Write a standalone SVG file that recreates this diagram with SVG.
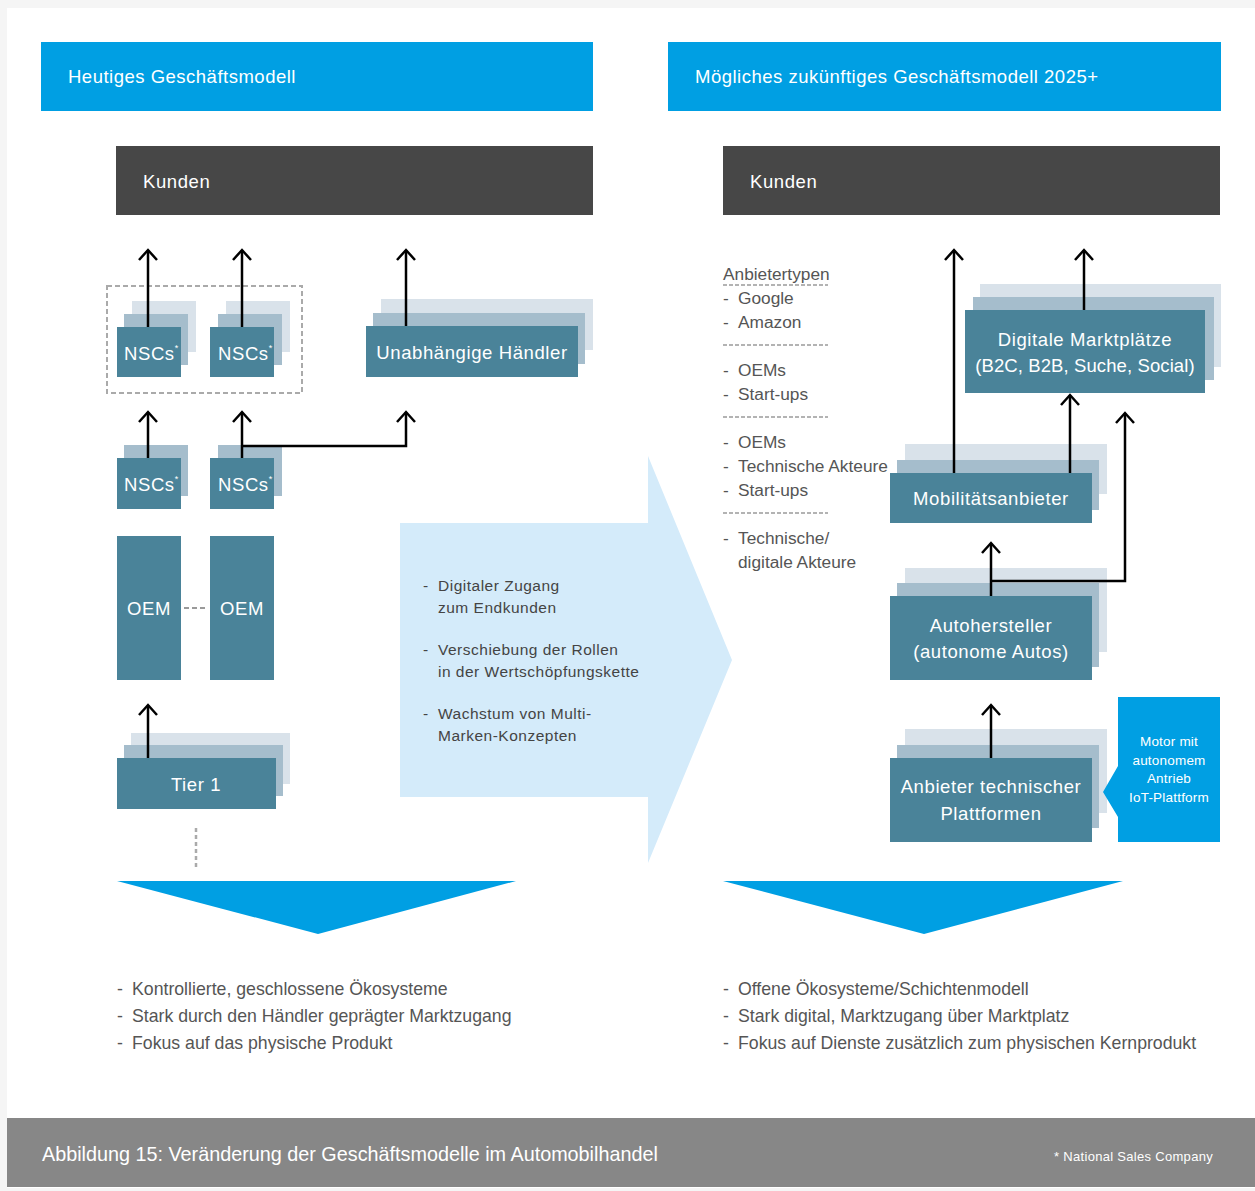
<svg xmlns="http://www.w3.org/2000/svg" width="1255" height="1191" viewBox="0 0 1255 1191">
<style>
.hdr{fill:#009fe3}
.hdrt{font-family:"Liberation Sans",Arial,sans-serif;font-size:18.5px;letter-spacing:0.5px;fill:#fff}
.kd{fill:#474747}
.f{fill:#4a8399}
.m{fill:#a5bdcc}
.b{fill:#d9e2ea}
.nt{font-family:"Liberation Sans",Arial,sans-serif;font-size:18.5px;letter-spacing:0.6px;fill:#fff}
.sup{font-size:9px}
.lt{font-family:"Liberation Sans",Arial,sans-serif;font-size:17.3px;fill:#555}
.bt{font-family:"Liberation Sans",Arial,sans-serif;font-size:17.7px;fill:#555}
.mt{font-family:"Liberation Sans",Arial,sans-serif;font-size:15.5px;letter-spacing:0.5px;fill:#444}
.ar{stroke:#000;stroke-width:2.5;fill:none;marker-end:url(#ah)}
.dsh{stroke:#9a9a9a;stroke-width:1.5;stroke-dasharray:4 2;fill:none}
</style>
<defs>
<marker id="ah" markerUnits="userSpaceOnUse" markerWidth="24" markerHeight="24" viewBox="-12 -12 24 24" refX="0" refY="0" orient="auto">
<path d="M-10,-9 L0,0 L-10,9" stroke="#000" stroke-width="2.5" fill="none"/>
</marker>
</defs>
<rect x="0" y="0" width="1255" height="1191" fill="#f5f5f5"/>
<rect x="7" y="8" width="1248" height="1180" fill="#fff"/>

<g id="header-left"><rect class="hdr" x="41" y="42" width="552" height="69"/><text class="hdrt" x="68" y="83">Heutiges Geschäftsmodell</text></g>
<g id="header-right"><rect class="hdr" x="668" y="42" width="553" height="69"/><text class="hdrt" x="695" y="83">Mögliches zukünftiges Geschäftsmodell 2025+</text></g>

<g id="kunden-left"><rect class="kd" x="116" y="146" width="477" height="69"/><text class="nt" x="143" y="188">Kunden</text></g>
<g id="kunden-right"><rect class="kd" x="723" y="146" width="497" height="69"/><text class="nt" x="750" y="188">Kunden</text></g>

<g id="nsc-group-box"><rect x="107" y="286" width="195" height="107" fill="none" stroke="#aaa" stroke-width="2" stroke-dasharray="5 3"/></g>

<g id="nsc-top-1"><rect class="b" x="132" y="301" width="64" height="51"/><rect class="m" x="124" y="314" width="64" height="51"/><rect class="f" x="117" y="327" width="64" height="50"/><text class="nt" x="124" y="360">NSCs<tspan class="sup" dy="-9">*</tspan></text></g>
<g id="nsc-top-2"><rect class="b" x="226" y="301" width="64" height="51"/><rect class="m" x="218" y="314" width="64" height="51"/><rect class="f" x="210" y="327" width="64" height="50"/><text class="nt" x="218" y="360">NSCs<tspan class="sup" dy="-9">*</tspan></text></g>
<g id="haendler"><rect class="b" x="381" y="299" width="212" height="51"/><rect class="m" x="373" y="313" width="212" height="51"/><rect class="f" x="366" y="326" width="212" height="51"/><text class="nt" x="472" y="359" text-anchor="middle">Unabhängige Händler</text></g>

<g id="nsc-mid-1"><rect class="m" x="124" y="445" width="64" height="51"/><rect class="f" x="117" y="458" width="64" height="51"/><text class="nt" x="124" y="491">NSCs<tspan class="sup" dy="-9">*</tspan></text></g>
<g id="nsc-mid-2"><rect class="m" x="218" y="445" width="64" height="51"/><rect class="f" x="210" y="458" width="64" height="51"/><text class="nt" x="218" y="491">NSCs<tspan class="sup" dy="-9">*</tspan></text></g>

<g id="oem-1"><rect class="f" x="117" y="536" width="64" height="144"/><text class="nt" x="149" y="615" text-anchor="middle">OEM</text></g>
<g id="oem-2"><rect class="f" x="210" y="536" width="64" height="144"/><text class="nt" x="242" y="615" text-anchor="middle">OEM</text></g>

<g id="tier1"><rect class="b" x="131" y="733" width="159" height="51"/><rect class="m" x="124" y="745" width="159" height="51"/><rect class="f" x="117" y="758" width="159" height="51"/><text class="nt" x="196" y="791" text-anchor="middle">Tier 1</text></g>

<g id="transition-arrow"><polygon points="400,523 648,523 648,456 732,660 648,863 648,797 400,797" fill="#d4ebfa"/>
<text class="mt"><tspan x="423" y="591">-</tspan><tspan x="438" y="591">Digitaler Zugang</tspan><tspan x="438" y="613">zum Endkunden</tspan><tspan x="423" y="655">-</tspan><tspan x="438" y="655">Verschiebung der Rollen</tspan><tspan x="438" y="677">in der Wertschöpfungskette</tspan><tspan x="423" y="719">-</tspan><tspan x="438" y="719">Wachstum von Multi-</tspan><tspan x="438" y="741">Marken-Konzepten</tspan></text></g>

<g id="anbietertypen">
<text class="lt"><tspan x="723" y="280">Anbietertypen</tspan>
<tspan x="723" y="304">-</tspan><tspan x="738" y="304">Google</tspan>
<tspan x="723" y="328">-</tspan><tspan x="738" y="328">Amazon</tspan>
<tspan x="723" y="376">-</tspan><tspan x="738" y="376">OEMs</tspan>
<tspan x="723" y="400">-</tspan><tspan x="738" y="400">Start-ups</tspan>
<tspan x="723" y="448">-</tspan><tspan x="738" y="448">OEMs</tspan>
<tspan x="723" y="472">-</tspan><tspan x="738" y="472">Technische Akteure</tspan>
<tspan x="723" y="496">-</tspan><tspan x="738" y="496">Start-ups</tspan>
<tspan x="723" y="544">-</tspan><tspan x="738" y="544">Technische/</tspan>
<tspan x="738" y="568">digitale Akteure</tspan></text>
<line class="dsh" x1="723" y1="285" x2="828" y2="285"/>
<line class="dsh" x1="723" y1="345" x2="828" y2="345"/>
<line class="dsh" x1="723" y1="417" x2="828" y2="417"/>
<line class="dsh" x1="723" y1="513" x2="828" y2="513"/>
</g>

<g id="marktplaetze"><rect class="b" x="980" y="284" width="241" height="83"/><rect class="m" x="973" y="297" width="241" height="83"/><rect class="f" x="965" y="310" width="240" height="83"/><text class="nt" x="1085" y="346" text-anchor="middle">Digitale Marktplätze</text><text class="nt" x="1085" y="372" text-anchor="middle" style="letter-spacing:0.1px">(B2C, B2B, Suche, Social)</text></g>
<g id="mobilitaet"><rect class="b" x="905" y="444" width="202" height="50"/><rect class="m" x="897" y="460" width="202" height="50"/><rect class="f" x="890" y="473" width="202" height="50"/><text class="nt" x="991" y="505" text-anchor="middle">Mobilitätsanbieter</text></g>
<g id="autohersteller"><rect class="b" x="905" y="568" width="202" height="84"/><rect class="m" x="897" y="583" width="202" height="84"/><rect class="f" x="890" y="596" width="202" height="84"/><text class="nt" x="991" y="632" text-anchor="middle">Autohersteller</text><text class="nt" x="991" y="658" text-anchor="middle">(autonome Autos)</text></g>
<g id="plattformen"><rect class="b" x="905" y="729" width="202" height="84"/><rect class="m" x="897" y="745" width="202" height="83"/><rect class="f" x="890" y="758" width="202" height="84"/><text class="nt" x="991" y="793" text-anchor="middle">Anbieter technischer</text><text class="nt" x="991" y="820" text-anchor="middle">Plattformen</text></g>
<g id="motor-callout"><polygon points="1118,697 1220,697 1220,842 1118,842 1118,817 1103,792 1118,766" fill="#009fe3"/>
<text font-family="Liberation Sans,Arial,sans-serif" font-size="13.5" letter-spacing="0.2" fill="#fff" text-anchor="middle"><tspan x="1169" y="746">Motor mit</tspan><tspan x="1169" y="765">autonomem</tspan><tspan x="1169" y="783">Antrieb</tspan><tspan x="1169" y="802">IoT-Plattform</tspan></text></g>

<g id="connectors">
<line class="ar" x1="148" y1="327" x2="148" y2="250"/>
<line class="ar" x1="242" y1="327" x2="242" y2="250"/>
<line class="ar" x1="406" y1="326" x2="406" y2="250"/>
<line class="ar" x1="148" y1="458" x2="148" y2="412"/>
<line class="ar" x1="242" y1="458" x2="242" y2="412"/>
<polyline class="ar" points="242,446 406,446 406,412"/>
<line stroke="#9a9a9a" stroke-width="2" stroke-dasharray="5 3" x1="184" y1="608" x2="207" y2="608"/>
<line class="ar" x1="148" y1="758" x2="148" y2="705"/>
<line stroke="#aaa" stroke-width="2.5" stroke-dasharray="4 3" x1="196" y1="828" x2="196" y2="870"/>
<line class="ar" x1="954" y1="473" x2="954" y2="250"/>
<line class="ar" x1="1084" y1="310" x2="1084" y2="250"/>
<line class="ar" x1="1070" y1="473" x2="1070" y2="395"/>
<line class="ar" x1="991" y1="596" x2="991" y2="543"/>
<polyline class="ar" points="991,581 1125,581 1125,413"/>
<line class="ar" x1="991" y1="758" x2="991" y2="705"/>
</g>

<g id="chevron-left"><polygon points="117,881 516,881 318,934" fill="#009fe3"/></g>
<g id="chevron-right"><polygon points="723,881 1123,881 924,934" fill="#009fe3"/></g>

<g id="summary-left"><text class="bt"><tspan x="117" y="995">-</tspan><tspan x="132" y="995">Kontrollierte, geschlossene Ökosysteme</tspan><tspan x="117" y="1022">-</tspan><tspan x="132" y="1022">Stark durch den Händler geprägter Marktzugang</tspan><tspan x="117" y="1049">-</tspan><tspan x="132" y="1049">Fokus auf das physische Produkt</tspan></text></g>
<g id="summary-right"><text class="bt"><tspan x="723" y="995">-</tspan><tspan x="738" y="995">Offene Ökosysteme/Schichtenmodell</tspan><tspan x="723" y="1022">-</tspan><tspan x="738" y="1022">Stark digital, Marktzugang über Marktplatz</tspan><tspan x="723" y="1049">-</tspan><tspan x="738" y="1049">Fokus auf Dienste zusätzlich zum physischen Kernprodukt</tspan></text></g>

<g id="footer"><rect x="7" y="1118" width="1248" height="69" fill="#878787"/>
<text font-family="Liberation Sans,Arial,sans-serif" font-size="19.8" fill="#fff" x="42" y="1161">Abbildung 15: Veränderung der Geschäftsmodelle im Automobilhandel</text>
<text font-family="Liberation Sans,Arial,sans-serif" font-size="13" letter-spacing="0.3" fill="#fff" x="1213" y="1161" text-anchor="end">* National Sales Company</text></g>
</svg>
